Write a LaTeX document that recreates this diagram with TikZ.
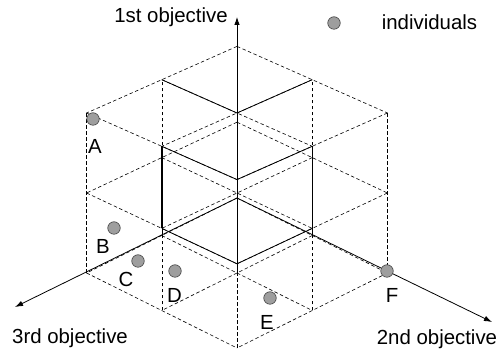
\documentclass[tikz,border=0pt]{standalone}
\usepackage{fontspec}
\setmainfont{Liberation Sans}
\usetikzlibrary{arrows.meta}
\begin{document}
\begin{tikzpicture}[x=1pt,y=-1pt,
  grid/.style={draw=black, dash pattern=on 3.5pt off 2.5pt, line width=0.6pt},
  solidedge/.style={draw=black, line width=0.8pt},
  axisline/.style={draw=black, line width=0.8pt, -{Latex[length=8pt,width=5.5pt]}},
  indiv/.style={circle, draw=black!75, fill=black!38, line width=0.6pt, minimum size=12.5pt, inner sep=0pt},
  lbl/.style={font=\fontsize{20.4}{24}\selectfont, inner sep=0pt}]
\useasboundingbox (0,0) rectangle (499,352);
% lattice points p<f1><f2><f3>
\coordinate (p200) at (237,46.4);
\coordinate (p210) at (312.2,79.7);
\coordinate (p220) at (387.4,113);
\coordinate (p201) at (161.8,79.7);
\coordinate (p211) at (237,113);
\coordinate (p221) at (312.2,146.3);
\coordinate (p202) at (86.6,113);
\coordinate (p212) at (161.8,146.3);
\coordinate (p222) at (237,179.6);
\coordinate (p100) at (237,122.2);
\coordinate (p110) at (312.2,157.6);
\coordinate (p120) at (387.4,193);
\coordinate (p101) at (161.8,157.6);
\coordinate (p111) at (237,193);
\coordinate (p121) at (312.2,228.4);
\coordinate (p102) at (86.6,193);
\coordinate (p112) at (161.8,228.4);
\coordinate (p122) at (237,263.8);
\coordinate (p000) at (237,198);
\coordinate (p010) at (312.2,235.5);
\coordinate (p020) at (387.4,273);
\coordinate (p001) at (161.8,235.5);
\coordinate (p011) at (237,273);
\coordinate (p021) at (312.2,310.5);
\coordinate (p002) at (86.6,273);
\coordinate (p012) at (161.8,310.5);
\coordinate (p022) at (237,348);
% grid lines
\foreach \i in {0,1,2}{
  \foreach \j in {0,1,2}{
    \draw[grid] (p\i0\j) -- (p\i1\j) -- (p\i2\j);
    \draw[grid] (p\i\j0) -- (p\i\j1) -- (p\i\j2);
    \draw[grid] (p0\i\j) -- (p1\i\j) -- (p2\i\j);
  }
}
% solid edges
\draw[solidedge] (p201) -- (p211) -- (p210);
\draw[solidedge] (p211) -- (p111);
\draw[solidedge] (p212) -- (p222) -- (p221);
\draw[solidedge] (p212) -- (p112);
\draw[solidedge] (p222) -- (p122);
\draw[solidedge] (p221) -- (p121);
\draw[solidedge] (p112) -- (p122) -- (p121);
% axes
\coordinate (t1) at (237,17);
\coordinate (t2) at (492,322);
\coordinate (t3) at (15,307);
\draw[axisline] (p000) -- (t1);
\draw[axisline] (p000) -- (t2);
\draw[axisline] (p000) -- (t3);
% labels
\node[lbl, anchor=base] (l1) at (171,22.7) {1st objective};
\node[lbl, anchor=base] (l2) at (437,345) {2nd objective};
\node[lbl, anchor=base] (l3) at (70,344) {3rd objective};
\node[indiv] (leg) at (334,23) {};
\node[lbl, anchor=base] (legt) at (429.5,29.5) {individuals};
% individuals
\node[indiv] (A) at (93,119) {};
\node[indiv] (B) at (114,228) {};
\node[indiv] (C) at (138,261) {};
\node[indiv] (D) at (175,271) {};
\node[indiv] (E) at (270,298) {};
\node[indiv] (F) at (387,271) {};
\node[lbl] (lA) at (95,146.5) {A};
\node[lbl] (lB) at (103,246.5) {B};
\node[lbl] (lC) at (126,279.5) {C};
\node[lbl] (lD) at (174.5,295) {D};
\node[lbl] (lE) at (267,322) {E};
\node[lbl] (lF) at (392,295) {F};
\end{tikzpicture}
\end{document}
